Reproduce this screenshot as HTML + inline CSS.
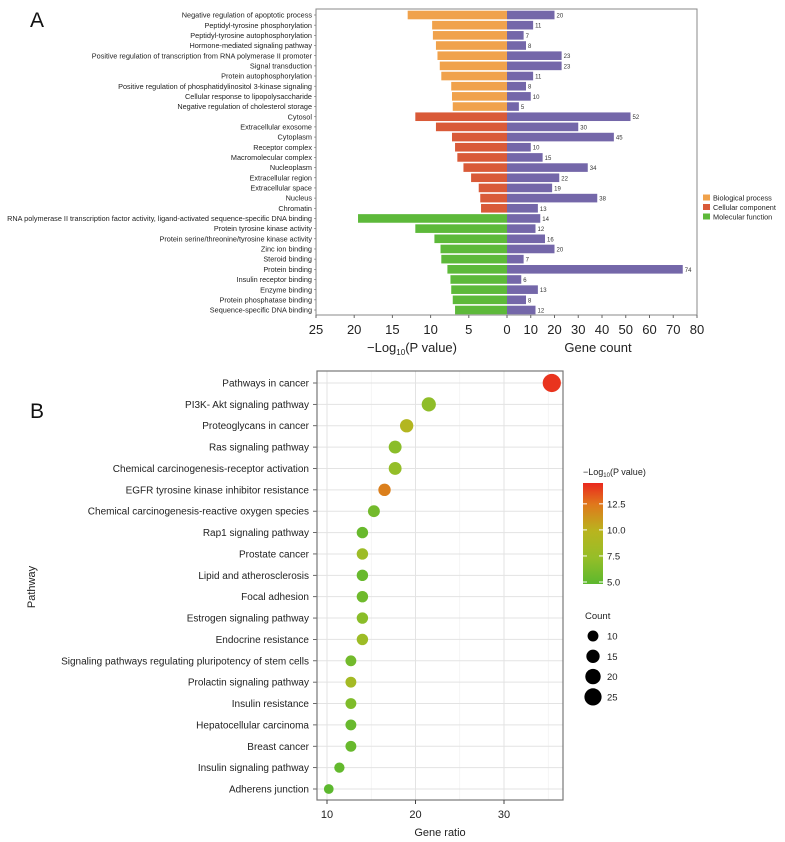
<!DOCTYPE html>
<html><head><meta charset="utf-8"><style>
body{margin:0;background:#fff;font-family:"Liberation Sans",Arial,sans-serif}
svg{display:block}
</style></head><body>
<svg id="chart" width="785" height="842" xmlns="http://www.w3.org/2000/svg" font-family="Liberation Sans, Arial, sans-serif">
<text x="30" y="27" font-size="21" fill="#111">A</text>
<text x="30" y="418" font-size="21" fill="#111">B</text>
<g id="pa"></g>
<g id="pb"></g>
</svg>
<script>
const goTerms=["Negative regulation of apoptotic process","Peptidyl-tyrosine phosphorylation","Peptidyl-tyrosine autophosphorylation","Hormone-mediated signaling pathway","Positive regulation of transcription from RNA polymerase II promoter","Signal transduction","Protein autophosphorylation","Positive regulation of phosphatidylinositol 3-kinase signaling","Cellular response to lipopolysaccharide","Negative regulation of cholesterol storage","Cytosol","Extracellular exosome","Cytoplasm","Receptor complex","Macromolecular complex","Nucleoplasm","Extracellular region","Extracellular space","Nucleus","Chromatin","RNA polymerase II transcription factor activity, ligand-activated sequence-specific DNA binding","Protein tyrosine kinase activity","Protein serine/threonine/tyrosine kinase activity","Zinc ion binding","Steroid binding","Protein binding","Insulin receptor binding","Enzyme binding","Protein phosphatase binding","Sequence-specific DNA binding"];
const goCategory=[0,0,0,0,0,0,0,0,0,0,1,1,1,1,1,1,1,1,1,1,2,2,2,2,2,2,2,2,2,2];
const goLogP=[13,9.8,9.7,9.3,9.1,8.8,8.6,7.3,7.2,7.1,12,9.3,7.2,6.8,6.5,5.7,4.7,3.7,3.5,3.4,19.5,12,9.5,8.7,8.6,7.8,7.4,7.3,7.1,6.8];
const goCount=[20,11,7,8,23,23,11,8,10,5,52,30,45,10,15,34,22,19,38,13,14,12,16,20,7,74,6,13,8,12];
const catNames=["Biological process","Cellular component","Molecular function"];
const leftTicks=[25,20,15,10,5,0];
const rightTicks=[10,20,30,40,50,60,70,80];

const keggTerms=["Pathways in cancer","PI3K- Akt signaling pathway","Proteoglycans in cancer","Ras signaling pathway","Chemical carcinogenesis-receptor activation","EGFR tyrosine kinase inhibitor resistance","Chemical carcinogenesis-reactive oxygen species","Rap1 signaling pathway","Prostate cancer","Lipid and atherosclerosis","Focal adhesion","Estrogen signaling pathway","Endocrine resistance","Signaling pathways regulating pluripotency of stem cells","Prolactin signaling pathway","Insulin resistance","Hepatocellular carcinoma","Breast cancer","Insulin signaling pathway","Adherens junction"];
const keggRatio=[35.4,21.5,19,17.7,17.7,16.5,15.3,14,14,14,14,14,14,12.7,12.7,12.7,12.7,12.7,11.4,10.2];
const keggCount=[28,17,15,14,14,13,12,11,11,11,11,11,11,10,10,10,10,10,9,8];
const keggLogP=[14.2,7.2,9.6,7.0,7.4,12.2,6.0,5.5,8.0,5.5,5.8,7.0,8.0,6.0,8.5,6.5,5.5,5.5,5.3,5.0];
const ratioTicks=[10,20,30];
const colorTicks=[5.0,7.5,10.0,12.5];
const sizeTicks=[10,15,20,25];

const NS="http://www.w3.org/2000/svg";
function mk(tag,attrs,parent,txt){const e=document.createElementNS(NS,tag);for(const k in attrs)e.setAttribute(k,attrs[k]);if(txt!==undefined)e.textContent=txt;parent.appendChild(e);return e;}

// ---------- Panel A ----------
const pa=document.getElementById('pa');
const aL=316,aR=697,aT=9,aB=315,zeroX=507;
const xLeft=v=>zeroX-(v/25)*(zeroX-aL);
const xRight=v=>zeroX+(v/80)*(aR-zeroX);
const rowY=i=>15+i*(310-15)/(goTerms.length-1);
const catColors=["#f0a24c","#d95a38","#5db93a"];
let r=mk('rect',{x:aL,y:aT,width:aR-aL,height:aB-aT,fill:'none',stroke:'#888','stroke-width':1},pa);

goTerms.forEach((t,i)=>{
  const y=rowY(i),h=8.6;
  const b=mk('rect',{x:xLeft(goLogP[i]),y:y-h/2,width:zeroX-xLeft(goLogP[i]),height:h,fill:catColors[goCategory[i]]},pa);
  
  const c=mk('rect',{x:zeroX,y:y-h/2,width:xRight(goCount[i])-zeroX,height:h,fill:'#7467a9'},pa);
  
  const v=mk('text',{x:xRight(goCount[i])+2,y:y+2.5,'font-size':6,fill:'#333'},pa,goCount[i]);
  
  const l=mk('text',{x:aL-4,y:y+2.6,'font-size':7.3,fill:'#222','text-anchor':'end'},pa,t);
  
  mk('line',{x1:aL-2,x2:aL,y1:y,y2:y,stroke:'#666','stroke-width':0.6},pa);
});
leftTicks.forEach(v=>{const x=xLeft(v);mk('line',{x1:x,x2:x,y1:aB,y2:aB+3,stroke:'#666'},pa);
  const t=mk('text',{x:x,y:334,'font-size':13,fill:'#222','text-anchor':'middle'},pa,v);
  });
rightTicks.forEach(v=>{const x=xRight(v);mk('line',{x1:x,x2:x,y1:aB,y2:aB+3,stroke:'#666'},pa);
  const t=mk('text',{x:x,y:334,'font-size':13,fill:'#222','text-anchor':'middle'},pa,v);
  });
let tt=mk('text',{x:412,y:352,'font-size':13,fill:'#222','text-anchor':'middle'},pa);

tt.innerHTML='−Log<tspan font-size="8" dy="3">10</tspan><tspan dy="-3">(P value)</tspan>';
tt=mk('text',{x:598,y:352,'font-size':13,fill:'#222','text-anchor':'middle'},pa,'Gene count');

catNames.forEach((n,i)=>{const y=198+i*9.5;
  const s=mk('rect',{x:703,y:y-3.5,width:7,height:6,fill:catColors[i]},pa);
  
  const t=mk('text',{x:713,y:y+2.5,'font-size':7.3,fill:'#222'},pa,n);
  });

// ---------- Panel B ----------
const pb=document.getElementById('pb');
const bL=317,bR=563,bT=371,bB=800;
const xr=v=>327+(v-10)*(504-327)/20;
const yr=i=>383+i*(789-383)/(keggTerms.length-1);
const rad=c=>Math.sqrt(c)*1.72;
function col(v){const stops=[[5,[92,184,46]],[7.5,[150,190,40]],[10,[185,180,30]],[12.5,[224,120,28]],[14.5,[234,40,30]]];
  if(v<=stops[0][0])return 'rgb('+stops[0][1]+')';
  for(let i=1;i<stops.length;i++){if(v<=stops[i][0]){const a=stops[i-1],b=stops[i],f=(v-a[0])/(b[0]-a[0]);return 'rgb('+a[1].map((c,k)=>Math.round(c+(b[1][k]-c)*f)).join(',')+')';}}
  return 'rgb('+stops[4][1]+')';}
[12.5,17.5,22.5,27.5,32.5].map(v=>v+2.5).forEach(v=>{if(xr(v)<bR)mk('line',{x1:xr(v),x2:xr(v),y1:bT,y2:bB,stroke:'#f0f0f0','stroke-width':0.7},pb);});
ratioTicks.forEach(v=>mk('line',{x1:xr(v),x2:xr(v),y1:bT,y2:bB,stroke:'#e3e3e3','stroke-width':1},pb));
keggTerms.forEach((t,i)=>{const y=yr(i);
  mk('line',{x1:bL,x2:bR,y1:y,y2:y,stroke:'#e3e3e3','stroke-width':1},pb);
  mk('line',{x1:bL-4,x2:bL,y1:y,y2:y,stroke:'#444','stroke-width':0.8},pb);
  const l=mk('text',{x:bL-8,y:y+3.5,'font-size':10,fill:'#222','text-anchor':'end'},pb,t);
  });
let f=mk('rect',{x:bL,y:bT,width:bR-bL,height:bB-bT,fill:'none',stroke:'#777','stroke-width':1.2},pb);

keggTerms.forEach((t,i)=>{const d=mk('circle',{cx:xr(keggRatio[i]),cy:yr(i),r:rad(keggCount[i]),fill:col(keggLogP[i])},pb);
  });
ratioTicks.forEach(v=>{mk('line',{x1:xr(v),x2:xr(v),y1:bB,y2:bB+4,stroke:'#444'},pb);
  const t=mk('text',{x:xr(v),y:818,'font-size':11,fill:'#222','text-anchor':'middle'},pb,v);
  });
tt=mk('text',{x:440,y:836,'font-size':11,fill:'#222','text-anchor':'middle'},pb,'Gene ratio');

tt=mk('text',{x:0,y:0,'font-size':11,fill:'#222','text-anchor':'middle',transform:'translate(35,587) rotate(-90)'},pb,'Pathway');

// color legend
const defs=mk('defs',{},pb);const g=mk('linearGradient',{id:'cg',x1:0,y1:1,x2:0,y2:0},defs);
[5,7.5,10,12.5,14.5].forEach(v=>mk('stop',{offset:(v-5)/9.5,'stop-color':col(v)},g));
const cT=483,cB=584,cy=v=>cB-2-(v-5)/(14.5-5)*(cB-cT-2);
tt=mk('text',{x:583,y:475,'font-size':9,fill:'#222'},pb);tt.innerHTML='−Log<tspan font-size="6" dy="2">10</tspan><tspan dy="-2">(P value)</tspan>';

const cb=mk('rect',{x:583,y:cT,width:20,height:cB-cT,fill:'url(#cg)'},pb);

colorTicks.forEach(v=>{const y=cy(v);mk('line',{x1:583,x2:587,y1:y,y2:y,stroke:'#fff'},pb);mk('line',{x1:599,x2:603,y1:y,y2:y,stroke:'#fff'},pb);
  const t=mk('text',{x:607,y:y+3.5,'font-size':9.5,fill:'#222'},pb,v.toFixed(1));
  });
tt=mk('text',{x:585,y:619,'font-size':9.5,fill:'#222'},pb,'Count');

sizeTicks.forEach((v,i)=>{const y=636+i*20.3;
  const c=mk('circle',{cx:593,cy:y,r:rad(v),fill:'#000'},pb);
  
  const t=mk('text',{x:607,y:y+3.5,'font-size':9.5,fill:'#222'},pb,v);
  });
</script>
</body></html>
